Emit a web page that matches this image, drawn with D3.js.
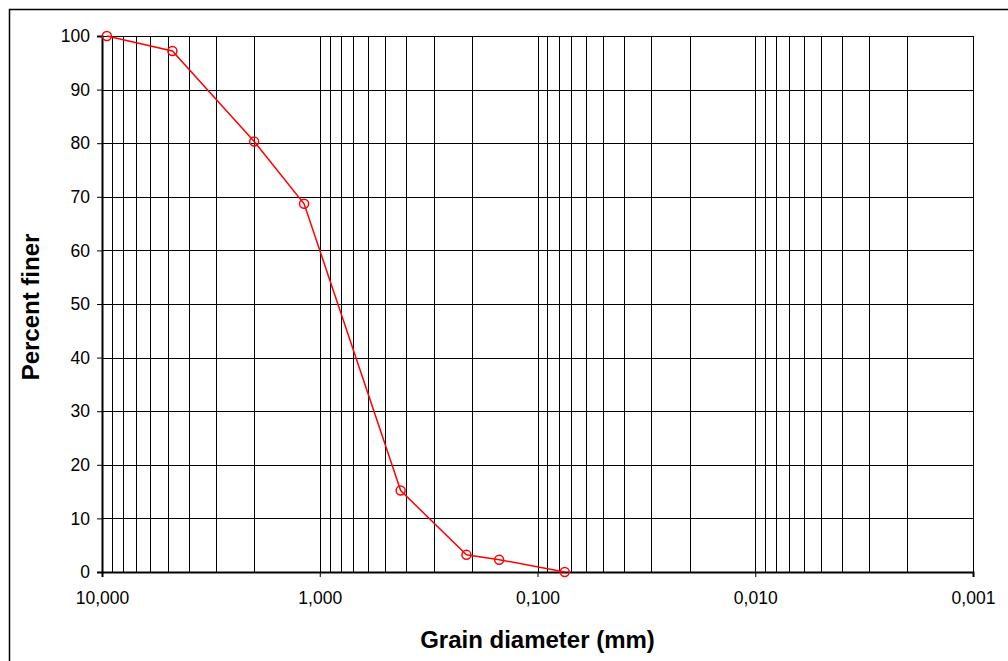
<!DOCTYPE html>
<html>
<head>
<meta charset="utf-8">
<script src="https://cdn.jsdelivr.net/npm/d3@7"></script>
<style>
  body { margin: 0; background: #fff; }
  svg { display: block; font-family: "Liberation Sans", Arial, sans-serif; }
  .tick text { font-size: 17.5px; fill: #000; }
  .axis-title { font-size: 24px; font-weight: bold; fill: #000; }
</style>
</head>
<body>
<div id="chart"></div>
<script>
// sieve data: grain diameter (mm) vs percent finer
const diameters = [9.5, 4.75, 2.0, 1.18, 0.425, 0.212, 0.15, 0.075];
const percentFiner = [100, 97.2, 80.3, 68.7, 15.2, 3.2, 2.3, 0];
const xMajorTicks = [10, 1, 0.1, 0.01, 0.001];
const yTicks = [0, 10, 20, 30, 40, 50, 60, 70, 80, 90, 100];

const width = 1008, height = 661;
const margin = {top: 36, right: 35, bottom: 89, left: 102};

const svg = d3.select("#chart").append("svg")
    .attr("width", width)
    .attr("height", height);

// chart area frame
svg.append("rect")
    .attr("x", 9.5).attr("y", 9.5)
    .attr("width", width + 20).attr("height", height + 20)
    .attr("fill", "none")
    .attr("stroke", "#000")
    .attr("stroke-width", 1.5);

const x = d3.scaleLog()
    .domain([10, 0.001])
    .range([margin.left, width - margin.right]);

const y = d3.scaleLinear()
    .domain([0, 100])
    .range([height - margin.bottom, margin.top]);

const grid = svg.append("g").attr("shape-rendering", "crispEdges");

// vertical grid on every log tick
grid.selectAll("line.vgrid")
    .data(x.ticks())
    .enter().append("line")
    .attr("class", "vgrid")
    .attr("x1", d => Math.round(x(d)) + 0.5)
    .attr("x2", d => Math.round(x(d)) + 0.5)
    .attr("y1", y(100))
    .attr("y2", y(0))
    .attr("stroke", "#000")
    .attr("stroke-width", 1);

// horizontal grid
grid.selectAll("line.hgrid")
    .data(yTicks)
    .enter().append("line")
    .attr("class", "hgrid")
    .attr("x1", x(10))
    .attr("x2", x(0.001))
    .attr("y1", d => Math.round(y(d)) + 0.5)
    .attr("y2", d => Math.round(y(d)) + 0.5)
    .attr("stroke", "#000")
    .attr("stroke-width", 1);

// plot area border
grid.append("rect")
    .attr("x", x(10)).attr("y", y(100))
    .attr("width", x(0.001) - x(10))
    .attr("height", y(0) - y(100))
    .attr("fill", "none")
    .attr("stroke", "#000");

const fmt = d3.format(".3f");

const xAxis = svg.append("g")
    .attr("transform", "translate(0," + y(0) + ")")
    .call(d3.axisBottom(x)
        .tickValues(xMajorTicks)
        .tickSize(5)
        .tickPadding(15)
        .tickFormat(d => fmt(d).replace(".", ",")));

const yAxis = svg.append("g")
    .attr("transform", "translate(" + x(10) + ",0)")
    .call(d3.axisLeft(y)
        .tickValues(yTicks)
        .tickSize(5)
        .tickPadding(7));

[xAxis, yAxis].forEach(a => {
    a.attr("font-family", null).attr("font-size", null);
    a.select(".domain").attr("stroke", "#000").attr("stroke-width", 2);
    a.selectAll(".tick line").attr("stroke", "#000");
});

// axis titles
svg.append("text")
    .attr("class", "axis-title")
    .attr("x", (x(10) + x(0.001)) / 2)
    .attr("y", 648)
    .attr("text-anchor", "middle")
    .text("Grain diameter (mm)");

svg.append("text")
    .attr("class", "axis-title")
    .attr("transform", "translate(39," + (y(50) + 3) + ") rotate(-90)")
    .attr("text-anchor", "middle")
    .text("Percent finer");

// gradation curve
const line = d3.line()
    .x((d, i) => x(diameters[i]))
    .y(d => y(d));

svg.append("path")
    .datum(percentFiner)
    .attr("d", line)
    .attr("fill", "none")
    .attr("stroke", "#ff0000")
    .attr("stroke-width", 1.5);

svg.selectAll("circle.pt")
    .data(percentFiner)
    .enter().append("circle")
    .attr("class", "pt")
    .attr("cx", (d, i) => x(diameters[i]))
    .attr("cy", d => y(d))
    .attr("r", 4.5)
    .attr("fill", "none")
    .attr("stroke", "#ff0000")
    .attr("stroke-width", 1.5);
</script>
</body>
</html>
